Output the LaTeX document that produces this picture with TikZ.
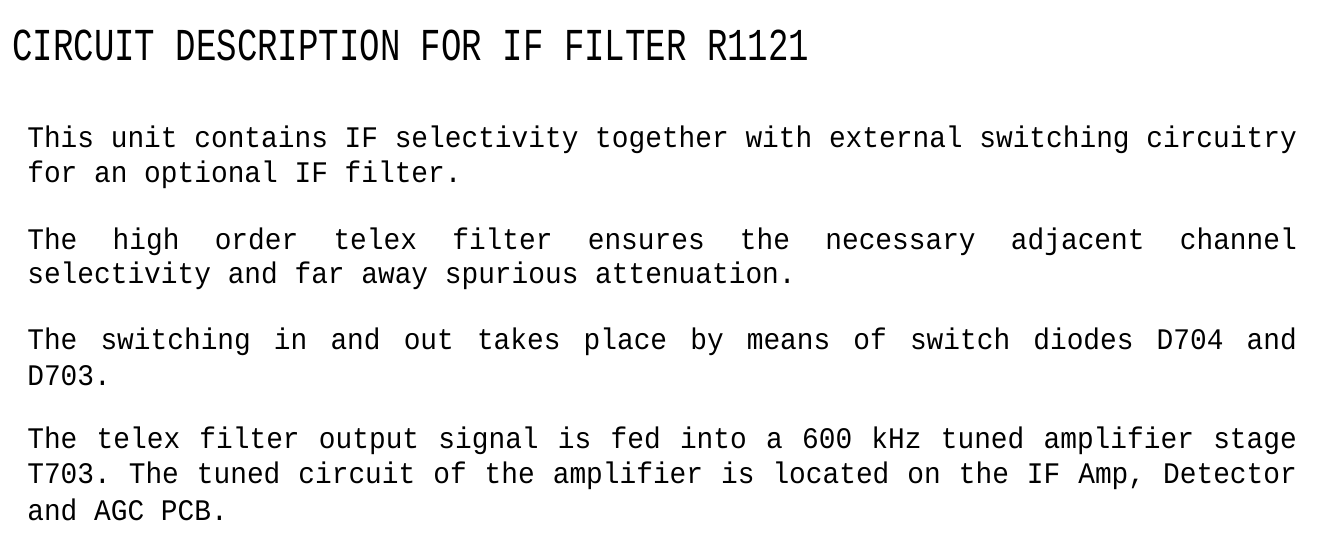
\documentclass[tikz,border=0pt]{standalone}
\usepackage{fontspec}
\setmonofont{Liberation Mono}
\newcommand{\fillline}[1]{\hbox to 27.25cm{#1}}
\begin{document}
\begin{tikzpicture}[x=0.02cm,y=-0.02cm,
    every node/.style={inner sep=0pt,anchor=west,font=\ttfamily\fontsize{17}{17}\selectfont,xscale=0.932},
    headline/.style={font=\ttfamily\fontsize{26}{26}\selectfont,xscale=0.8}]
    \useasboundingbox[fill=white] (0,0) rectangle (1337,542);

    % heading
    \node[headline] (title) at (12,45) {CIRCUIT DESCRIPTION FOR IF FILTER R1121};

    % paragraph 1
    \node (p1a) at (27,140) {This unit contains IF selectivity together with external switching circuitry};
    \node (p1b) at (27,175) {for an optional IF filter.};

    % paragraph 2
    \node (p2a) at (27,242) {\fillline{The\hfill high\hfill order\hfill telex\hfill filter\hfill ensures\hfill the\hfill necessary\hfill adjacent\hfill channel}};
    \node (p2b) at (27,276) {selectivity and far away spurious attenuation.};

    % paragraph 3
    \node (p3a) at (27,342) {\fillline{The\hfill switching\hfill in\hfill and\hfill out\hfill takes\hfill place\hfill by\hfill means\hfill of\hfill switch\hfill diodes\hfill D704\hfill and}};
    \node (p3b) at (27,376) {D703.};

    % paragraph 4
    \node (p4a) at (27,441) {\fillline{The\hfill telex\hfill filter\hfill output\hfill signal\hfill is\hfill fed\hfill into\hfill a\hfill 600\hfill kHz\hfill tuned\hfill amplifier\hfill stage}};
    \node (p4b) at (27,476) {\fillline{T703.\hfill The\hfill tuned\hfill circuit\hfill of\hfill the\hfill amplifier\hfill is\hfill located\hfill on\hfill the\hfill IF\hfill Amp,\hfill Detector}};
    \node (p4c) at (27,510) {and AGC PCB.};
\end{tikzpicture}
\end{document}
